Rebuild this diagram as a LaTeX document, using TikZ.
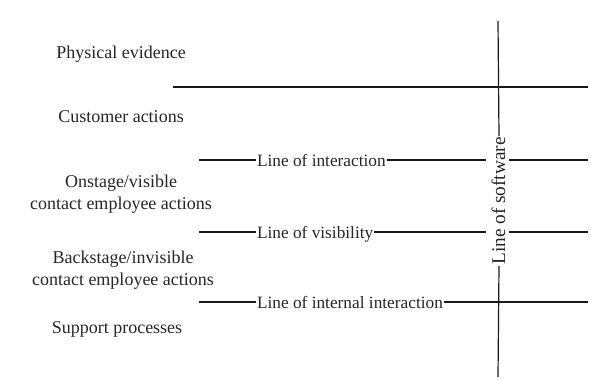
\documentclass[tikz,border=0pt]{standalone}
\usepackage{fontspec}
\newfontfamily\lserif{Liberation Serif}
\begin{document}
\begin{tikzpicture}[x=1pt,y=-1pt,
  lane/.style={font=\lserif\fontsize{18}{22}\selectfont, text=black!85, align=center, inner sep=0pt},
  linelabel/.style={font=\lserif\fontsize{17.3}{22}\selectfont, text=black!85, inner xsep=0.8pt, inner ysep=0pt, text height=12pt, text depth=0pt},
  rule/.style={line width=1.2pt, black!90}]
\useasboundingbox (0,0) rectangle (600,380);
% lane titles
\node[lane] (pe) at (121,54) {Physical evidence};
\node[lane] (ca) at (121,117) {Customer actions};
\node[lane] (on) at (121,194) {Onstage/visible\\contact employee actions};
\node[lane] (bs) at (123,270) {Backstage/invisible\\contact employee actions};
\node[lane] (sp) at (117,329) {Support processes};
% line of software
\node[linelabel, rotate=90, font=\lserif\fontsize{19.3}{22}\selectfont] (sw) at (499,201) {Line of software};
\coordinate (swtop) at (498,21);
\coordinate (swbot) at (498,377);
\draw[rule] (swtop) -- (sw.east);
\draw[rule] (sw.west) -- (swbot);
% physical evidence line
\coordinate (pl) at (173,87);
\coordinate (pr) at (588,87);
\draw[rule] (pl) -- (pr);
% line of interaction
\node[linelabel, anchor=west] (li) at (256,160) {Line of interaction};
\coordinate (lil) at (199,160);
\coordinate (lim) at (486,160);
\coordinate (lin) at (509,160);
\coordinate (lir) at (588,160);
\draw[rule] (lil) -- (li.west);
\draw[rule] (li.east) -- (lim);
\draw[rule] (lin) -- (lir);
% line of visibility
\node[linelabel, anchor=west] (lv) at (256,232) {Line of visibility};
\coordinate (lvl) at (199,232);
\coordinate (lvm) at (486,232);
\coordinate (lvn) at (509,232);
\coordinate (lvr) at (588,232);
\draw[rule] (lvl) -- (lv.west);
\draw[rule] (lv.east) -- (lvm);
\draw[rule] (lvn) -- (lvr);
% line of internal interaction
\node[linelabel, anchor=west] (lii) at (256,302) {Line of internal interaction};
\coordinate (liil) at (199,302);
\coordinate (liir) at (588,302);
\draw[rule] (liil) -- (lii.west);
\draw[rule] (lii.east) -- (liir);
\end{tikzpicture}
\end{document}
